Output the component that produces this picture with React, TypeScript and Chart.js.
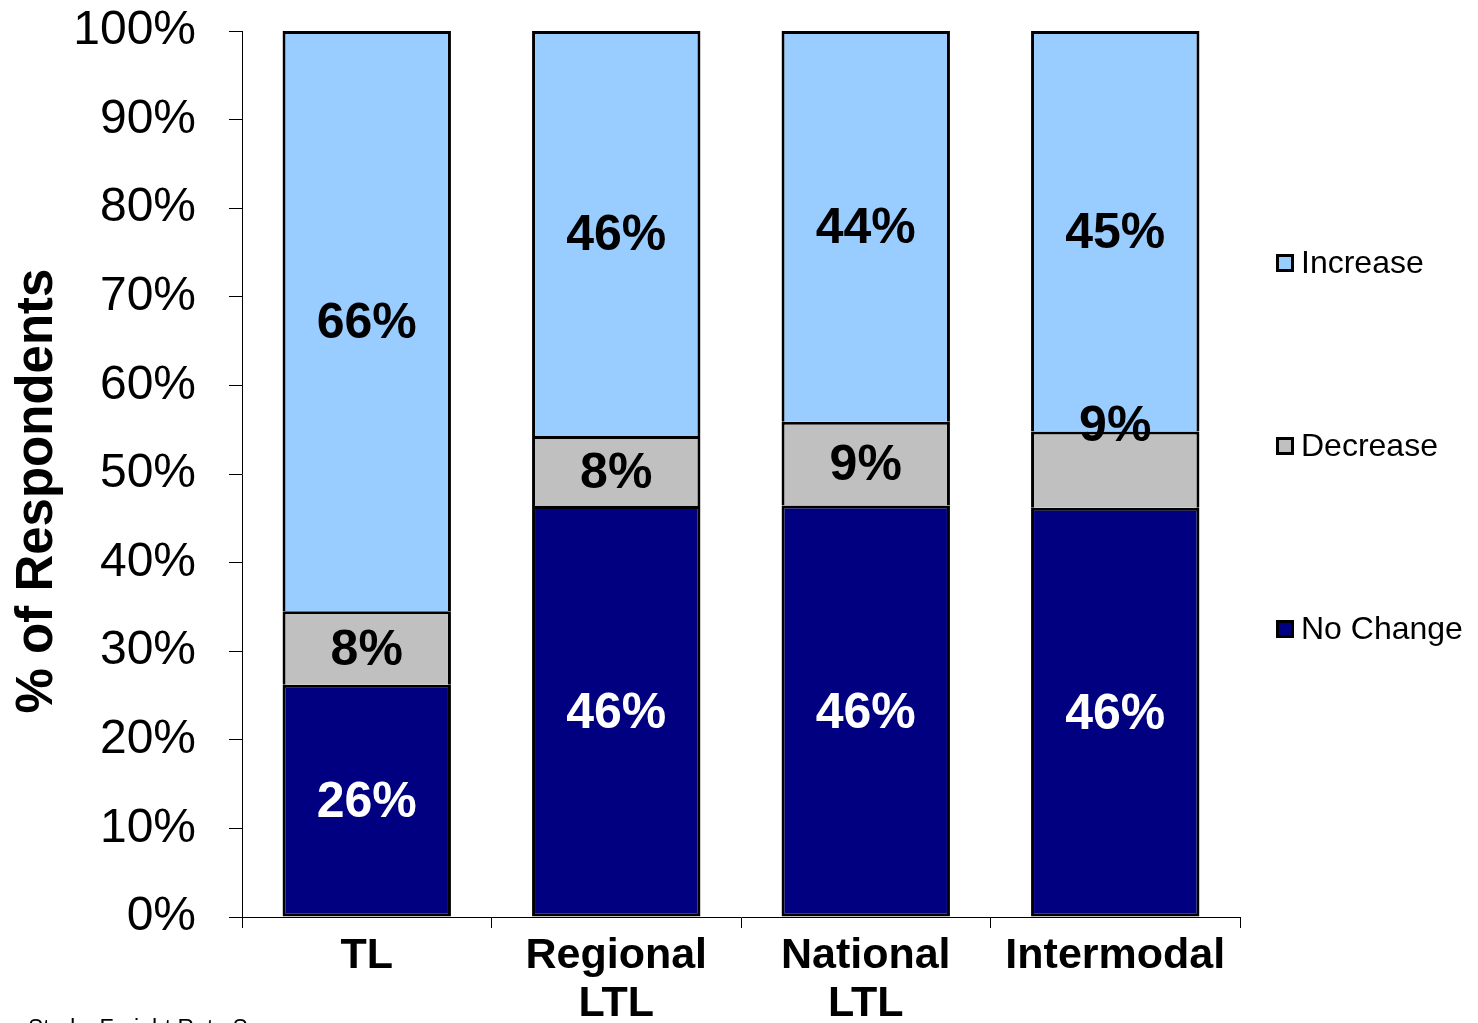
import React, { useEffect, useRef } from "react";
import { Chart, registerables } from "chart.js";

Chart.register(...registerables);

const categories: (string | string[])[] = ["TL", ["Regional", "LTL"], ["National", "LTL"], "Intermodal"];
const noChange = [26.2, 46.4, 46.45, 46.2];
const decrease = [8.3, 7.9, 9.45, 8.6];
const increase = [65.5, 45.7, 44.1, 45.2];
const seriesNames = ["No Change", "Decrease", "Increase"];
const seriesColors = ["#000080", "#C0C0C0", "#99CCFF"];
const labelColors = ["#FFFFFF", "#000000", "#000000"];
const yTicks = [0, 10, 20, 30, 40, 50, 60, 70, 80, 90, 100];
const yTitle = "% of Respondents";
const footerText = "Study: Freight Rate Survey";

const FONT = "'Liberation Sans', Arial, sans-serif";

export default function App() {
  const ref = useRef<HTMLCanvasElement | null>(null);

  useEffect(() => {
    document.body.style.margin = "0";
    const canvas = ref.current!;
    const labelsPlugin = {
      id: "segLabels",
      afterDatasetsDraw(chart: any) {
        const ctx = chart.ctx;
        ctx.save();
        ctx.font = `bold 50px ${FONT}`;
        ctx.textAlign = "center";
        ctx.textBaseline = "middle";
        chart.data.datasets.forEach((ds: any, di: number) => {
          const meta = chart.getDatasetMeta(di);
          meta.data.forEach((el: any, i: number) => {
            const v = ds.data[i];
            let cy = (el.y + el.base) / 2;
            // Excel-style collision shift for the small Intermodal "Decrease" label
            if (di === 1 && i === 3) cy -= 45;
            ctx.fillStyle = labelColors[di];
            ctx.fillText(Math.round(v) + "%", el.x, cy + 3);
          });
        });
        ctx.restore();
      },
      afterDraw(chart: any) {
        const ctx = chart.ctx;
        ctx.save();
        // y axis title
        ctx.save();
        ctx.translate(38, 491);
        ctx.rotate(-Math.PI / 2);
        ctx.font = `bold 51px ${FONT}`;
        ctx.textAlign = "center";
        ctx.textBaseline = "middle";
        ctx.fillStyle = "#000";
        ctx.fillText(yTitle, 0, 0);
        ctx.restore();
        // legend
        const order = [2, 1, 0];
        const ys = [263, 446, 629];
        ctx.font = `32px ${FONT}`;
        ctx.textBaseline = "middle";
        ctx.textAlign = "left";
        order.forEach((di, k) => {
          const ds = chart.data.datasets[di];
          const y = ys[k];
          ctx.fillStyle = "#000";
          ctx.fillRect(1276, y - 9, 18, 18);
          ctx.fillStyle = ds.backgroundColor;
          ctx.fillRect(1279, y - 6, 12, 12);
          ctx.fillStyle = "#000";
          ctx.fillText(ds.label, 1301, y + 1);
        });
        // footer
        ctx.font = `23px ${FONT}`;
        ctx.textBaseline = "top";
        ctx.fillText(footerText, 28, 1018);
        ctx.restore();
      },
    };

    const chart = new Chart(canvas, {
      type: "bar",
      data: {
        labels: categories,
        datasets: [noChange, decrease, increase].map((d, i) => ({
          label: seriesNames[i],
          data: d,
          backgroundColor: seriesColors[i],
          borderColor: "#000000",
          borderSkipped: false,
          borderWidth: (c: any) => ({ top: 3, left: 3, right: 3, bottom: c.datasetIndex === 0 ? 3 : 0 }),
          categoryPercentage: 1,
          barPercentage: 0.675,
        })),
      },
      options: {
        responsive: false,
        animation: false,
        devicePixelRatio: 1,
        layout: { padding: { top: 31, right: 238, left: 0, bottom: 0 } },
        plugins: { legend: { display: false }, tooltip: { enabled: false } },
        scales: {
          x: {
            stacked: true,
            afterFit: (s: any) => { s.height = 106; s.paddingLeft = 0; s.paddingRight = 0; },
            grid: { offset: true, drawOnChartArea: false, drawTicks: true, tickLength: 11, color: "#000", lineWidth: 1 },
            border: { color: "#000", width: 1 },
            ticks: {
              color: "#000",
              padding: 4,
              maxRotation: 0,
              autoSkip: false,
              font: { family: FONT, size: 43, weight: "bold", lineHeight: 1.12 },
            },
          },
          y: {
            stacked: true,
            min: 0,
            max: 100,
            afterFit: (s: any) => { s.width = 242; s.paddingTop = 0; s.paddingBottom = 0; },
            afterBuildTicks: (s: any) => { s.ticks = yTicks.map((v) => ({ value: v })); },
            grid: { drawOnChartArea: false, drawTicks: true, tickLength: 13, color: "#000", lineWidth: 1 },
            border: { color: "#000", width: 1 },
            ticks: {
              color: "#000",
              padding: 33,
              font: { family: FONT, size: 48 },
              callback: (v: any) => v + "%",
            },
          },
        },
      },
      plugins: [labelsPlugin],
    } as any);
    return () => chart.destroy();
  }, []);

  return (
    <div style={{ position: "absolute", left: 0, top: 0, width: 1478, height: 1023, overflow: "hidden", background: "#fff" }}>
      <canvas ref={ref} width={1478} height={1023} />
    </div>
  );
}
